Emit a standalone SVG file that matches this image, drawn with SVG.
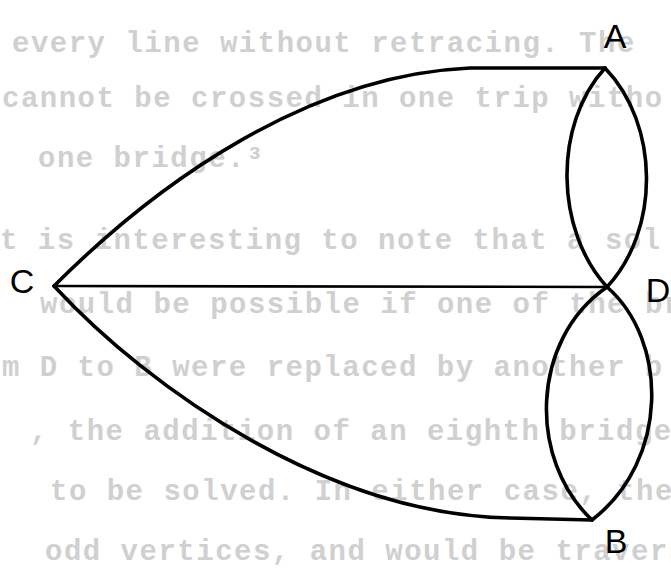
<svg xmlns="http://www.w3.org/2000/svg" width="671" height="575" viewBox="0 0 671 575">
<style>
.bg{font-family:"Liberation Mono","DejaVu Sans Mono",monospace;font-weight:bold;font-size:29px;fill:#d0d0d0;letter-spacing:1.5px}
.edge{fill:none;stroke:#000;stroke-width:3.6;stroke-linecap:round;stroke-linejoin:round}
.lbl{font-family:"Liberation Sans","DejaVu Sans",sans-serif;font-size:34px;fill:#000;text-anchor:middle}
</style>
<rect width="671" height="575" fill="#fff"/>
<g id="background-text">
<text class="bg" x="12" y="52">every line without retracing. The</text>
<text class="bg" x="2" y="107">cannot be crossed in one trip witho</text>
<text class="bg" x="38" y="167">one bridge.³</text>
<text class="bg" x="0" y="249">t is interesting to note that a sol</text>
<text class="bg" x="40" y="313">would be possible if one of the bri</text>
<text class="bg" x="2" y="376">m D to B were replaced by another b</text>
<text class="bg" x="30" y="440">, the addition of an eighth bridge</text>
<text class="bg" x="50" y="500">to be solved.  In either case, the</text>
<text class="bg" x="45" y="560">odd vertices, and would be traversed</text>
</g>
<g id="connectors">
<path class="edge" d="M54,286 C160,180 310,75 470,68 L605,68"/>
<path class="edge" d="M54,286 C150,390 330,515 510,518 L592,520"/>
<path class="edge" d="M54,286 L607,287" style="stroke-width:2.6"/>
<path class="edge" d="M605,68 C553,125 555,230 607,287"/>
<path class="edge" d="M605,68 C660,125 660,230 607,287"/>
<path class="edge" d="M607,287 C530,340 528,460 592,520"/>
<path class="edge" d="M607,287 C668,340 670,460 592,520"/>
</g>
<g id="node-A"><text class="lbl" x="615" y="48">A</text></g>
<g id="node-C"><text class="lbl" x="22" y="293">C</text></g>
<g id="node-D"><text class="lbl" x="658" y="302">D</text></g>
<g id="node-B"><text class="lbl" x="616" y="553">B</text></g>
</svg>
